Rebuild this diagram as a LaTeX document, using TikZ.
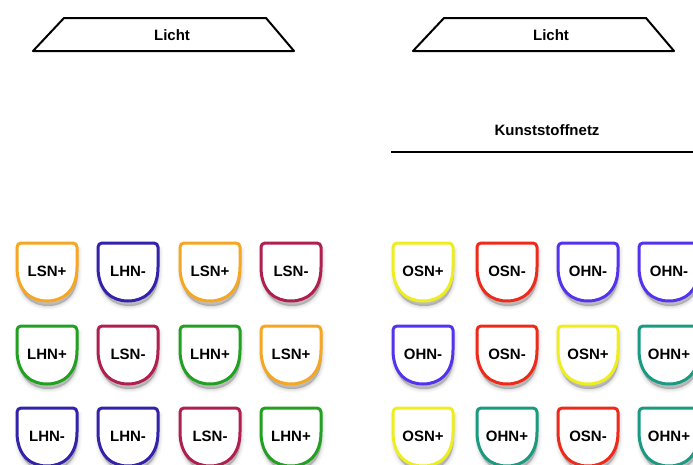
\documentclass[tikz,border=0pt]{standalone}
\usepackage{fontspec}
\setmainfont{Liberation Sans}
\definecolor{cOrange}{HTML}{F5A623}
\definecolor{cBlue}{HTML}{3322AA}
\definecolor{cCrimson}{HTML}{B0204F}
\definecolor{cGreen}{HTML}{22A022}
\definecolor{cYellow}{HTML}{EEEE1E}
\definecolor{cRed}{HTML}{EE2A1A}
\definecolor{cViolet}{HTML}{5533EE}
\definecolor{cTeal}{HTML}{1A9A80}
\tikzset{
  lbl/.style={font=\bfseries\fontsize{15}{17}\selectfont, inner sep=0pt},
  lamp/.style={draw=black, line width=2pt, line join=round},
  % shield-shaped badge, anchored at its top-left corner
  pics/shield/.style args={#1/#2}{code={
    \foreach \w/\o in {8/0.04,6/0.05,4/0.07,2/0.09}{
      \fill[black, opacity=\o, line width=\w pt, draw=black, draw opacity=\o/2]
        (1,8) -- (1,29) .. controls (1,53) and (15,63) .. (31,63)
        .. controls (47,63) and (61,53) .. (61,29) -- (61,8) -- cycle;
    }
    \filldraw[fill=white, draw=#1, line width=3pt, line join=round]
      (0,4) .. controls (0,1.8) and (1.8,0) .. (4,0) -- (56,0)
      .. controls (58.2,0) and (60,1.8) .. (60,4) -- (60,24)
      .. controls (60,48) and (46,58) .. (30,58)
      .. controls (14,58) and (0,48) .. (0,24) -- cycle;
    \node[lbl] (-t) at (30,28) {#2};
  }}
}
\begin{document}
\begin{tikzpicture}[x=1pt, y=-1pt]
\useasboundingbox (0,0) rectangle (693,464);

% light sources
\draw[lamp] (33,51) -- (64,18) -- (266,18) -- (294,51) -- cycle;
\node[lbl] (lichtL) at (172,35) {Licht};
\draw[lamp] (413,51) -- (444,18) -- (646,18) -- (674,51) -- cycle;
\node[lbl] (lichtR) at (551,35) {Licht};

% plastic net
\node[lbl] (netz) at (547,130) {Kunststoffnetz};
\coordinate (netzA) at (391,152);
\coordinate (netzB) at (693,152);
\draw[line width=2pt] (netzA) -- (netzB);

% left field
\pic (l11) at (17,243)  {shield={cOrange/LSN+}};
\pic (l12) at (98,243)  {shield={cBlue/LHN-}};
\pic (l13) at (180,243) {shield={cOrange/LSN+}};
\pic (l14) at (261,243) {shield={cCrimson/LSN-}};
\pic (l21) at (17,326)  {shield={cGreen/LHN+}};
\pic (l22) at (98,326)  {shield={cCrimson/LSN-}};
\pic (l23) at (180,326) {shield={cGreen/LHN+}};
\pic (l24) at (261,326) {shield={cOrange/LSN+}};
\pic (l31) at (17,408)  {shield={cBlue/LHN-}};
\pic (l32) at (98,408)  {shield={cBlue/LHN-}};
\pic (l33) at (180,408) {shield={cCrimson/LSN-}};
\pic (l34) at (261,408) {shield={cGreen/LHN+}};

% right field
\pic (r11) at (393,243) {shield={cYellow/OSN+}};
\pic (r12) at (477,243) {shield={cRed/OSN-}};
\pic (r13) at (558,243) {shield={cViolet/OHN-}};
\pic (r14) at (639,243) {shield={cViolet/OHN-}};
\pic (r21) at (393,326) {shield={cViolet/OHN-}};
\pic (r22) at (477,326) {shield={cRed/OSN-}};
\pic (r23) at (558,326) {shield={cYellow/OSN+}};
\pic (r24) at (639,326) {shield={cTeal/OHN+}};
\pic (r31) at (393,408) {shield={cYellow/OSN+}};
\pic (r32) at (477,408) {shield={cTeal/OHN+}};
\pic (r33) at (558,408) {shield={cRed/OSN-}};
\pic (r34) at (639,408) {shield={cTeal/OHN+}};
\end{tikzpicture}
\end{document}
